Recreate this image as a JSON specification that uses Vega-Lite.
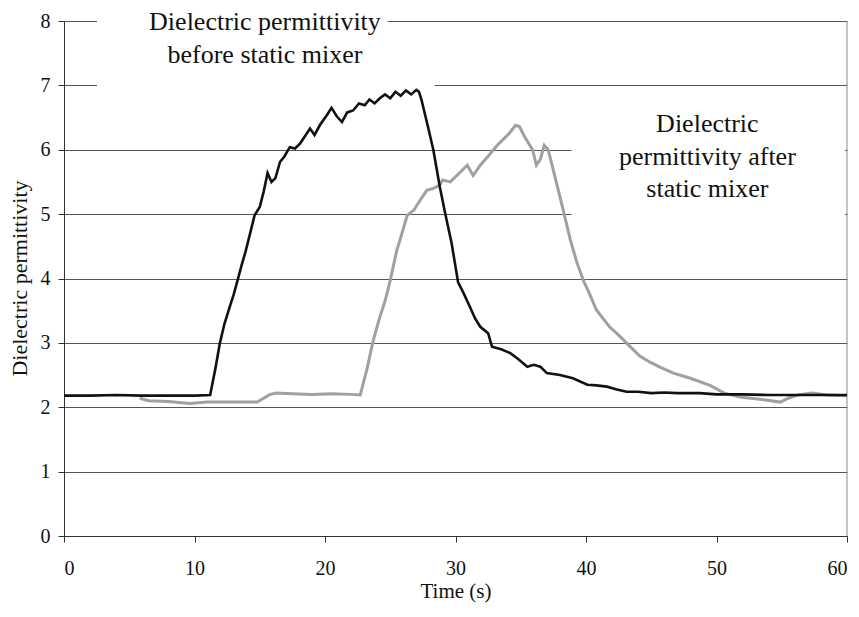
{
  "$schema": "https://vega.github.io/schema/vega-lite/v6.json",
  "width": 783,
  "height": 515,
  "autosize": {"type": "none"},
  "padding": {"left": 64, "top": 21, "right": 12, "bottom": 81},
  "background": "white",
  "config": {
    "view": {"stroke": null},
    "axis": {
      "labelFont": "Liberation Serif",
      "titleFont": "Liberation Serif",
      "labelFontSize": 20,
      "titleFontSize": 21,
      "titleFontWeight": "normal",
      "labelColor": "#111111",
      "titleColor": "#111111",
      "domainColor": "#333333",
      "tickColor": "#333333",
      "gridColor": "#555555",
      "gridWidth": 1,
      "tickSize": 6
    }
  },
  "datasets": {
    "series": [
      {"t": 0, "v": 2.18, "s": "before"}, {"t": 2, "v": 2.18, "s": "before"}, {"t": 4, "v": 2.19, "s": "before"}, {"t": 6, "v": 2.18, "s": "before"}, {"t": 8, "v": 2.18, "s": "before"}, {"t": 10, "v": 2.18, "s": "before"}, {"t": 11.2, "v": 2.19, "s": "before"},
      {"t": 11.6, "v": 2.6, "s": "before"}, {"t": 11.95, "v": 3.0, "s": "before"}, {"t": 12.3, "v": 3.3, "s": "before"}, {"t": 12.7, "v": 3.56, "s": "before"}, {"t": 13.0, "v": 3.75, "s": "before"}, {"t": 13.3, "v": 3.97, "s": "before"}, {"t": 13.6, "v": 4.2, "s": "before"}, {"t": 13.9, "v": 4.41, "s": "before"}, {"t": 14.2, "v": 4.65, "s": "before"}, {"t": 14.6, "v": 4.98, "s": "before"}, {"t": 15.0, "v": 5.11, "s": "before"}, {"t": 15.3, "v": 5.35, "s": "before"}, {"t": 15.6, "v": 5.64, "s": "before"}, {"t": 15.9, "v": 5.5, "s": "before"}, {"t": 16.2, "v": 5.56, "s": "before"}, {"t": 16.55, "v": 5.81, "s": "before"}, {"t": 16.9, "v": 5.9, "s": "before"}, {"t": 17.3, "v": 6.04, "s": "before"}, {"t": 17.7, "v": 6.02, "s": "before"}, {"t": 18.1, "v": 6.1, "s": "before"}, {"t": 18.5, "v": 6.22, "s": "before"}, {"t": 18.85, "v": 6.33, "s": "before"}, {"t": 19.2, "v": 6.23, "s": "before"}, {"t": 19.6, "v": 6.38, "s": "before"}, {"t": 20.15, "v": 6.54, "s": "before"}, {"t": 20.5, "v": 6.65, "s": "before"}, {"t": 20.9, "v": 6.52, "s": "before"}, {"t": 21.3, "v": 6.43, "s": "before"}, {"t": 21.7, "v": 6.58, "s": "before"}, {"t": 22.15, "v": 6.61, "s": "before"}, {"t": 22.6, "v": 6.72, "s": "before"}, {"t": 23.05, "v": 6.69, "s": "before"}, {"t": 23.4, "v": 6.78, "s": "before"}, {"t": 23.8, "v": 6.72, "s": "before"}, {"t": 24.2, "v": 6.8, "s": "before"}, {"t": 24.6, "v": 6.86, "s": "before"}, {"t": 25.0, "v": 6.8, "s": "before"}, {"t": 25.4, "v": 6.9, "s": "before"}, {"t": 25.8, "v": 6.84, "s": "before"}, {"t": 26.2, "v": 6.92, "s": "before"}, {"t": 26.6, "v": 6.86, "s": "before"}, {"t": 27.0, "v": 6.93, "s": "before"}, {"t": 27.2, "v": 6.9, "s": "before"},
      {"t": 27.4, "v": 6.77, "s": "before"}, {"t": 27.9, "v": 6.35, "s": "before"}, {"t": 28.3, "v": 6.0, "s": "before"}, {"t": 28.8, "v": 5.42, "s": "before"}, {"t": 29.2, "v": 5.02, "s": "before"}, {"t": 29.7, "v": 4.55, "s": "before"}, {"t": 30.2, "v": 3.94, "s": "before"}, {"t": 30.6, "v": 3.78, "s": "before"}, {"t": 31.1, "v": 3.56, "s": "before"}, {"t": 31.5, "v": 3.38, "s": "before"}, {"t": 31.9, "v": 3.25, "s": "before"}, {"t": 32.5, "v": 3.15, "s": "before"}, {"t": 32.8, "v": 2.94, "s": "before"}, {"t": 33.5, "v": 2.9, "s": "before"}, {"t": 34.2, "v": 2.84, "s": "before"}, {"t": 34.8, "v": 2.75, "s": "before"}, {"t": 35.5, "v": 2.63, "s": "before"}, {"t": 36.0, "v": 2.66, "s": "before"}, {"t": 36.5, "v": 2.63, "s": "before"}, {"t": 37.0, "v": 2.53, "s": "before"}, {"t": 38.0, "v": 2.5, "s": "before"}, {"t": 39.0, "v": 2.45, "s": "before"}, {"t": 40.1, "v": 2.35, "s": "before"}, {"t": 40.8, "v": 2.34, "s": "before"}, {"t": 41.6, "v": 2.32, "s": "before"}, {"t": 42.3, "v": 2.28, "s": "before"}, {"t": 43.1, "v": 2.24, "s": "before"}, {"t": 44, "v": 2.24, "s": "before"}, {"t": 45, "v": 2.22, "s": "before"}, {"t": 46, "v": 2.23, "s": "before"}, {"t": 47, "v": 2.22, "s": "before"}, {"t": 48.7, "v": 2.22, "s": "before"}, {"t": 50, "v": 2.2, "s": "before"}, {"t": 52, "v": 2.2, "s": "before"}, {"t": 54, "v": 2.19, "s": "before"}, {"t": 56, "v": 2.19, "s": "before"}, {"t": 58, "v": 2.19, "s": "before"}, {"t": 60, "v": 2.19, "s": "before"},
      {"t": 5.8, "v": 2.14, "s": "after"}, {"t": 6.5, "v": 2.1, "s": "after"}, {"t": 8, "v": 2.09, "s": "after"}, {"t": 9.65, "v": 2.06, "s": "after"}, {"t": 11, "v": 2.08, "s": "after"}, {"t": 12.5, "v": 2.08, "s": "after"}, {"t": 14, "v": 2.08, "s": "after"}, {"t": 14.8, "v": 2.08, "s": "after"}, {"t": 15.8, "v": 2.2, "s": "after"}, {"t": 16.3, "v": 2.22, "s": "after"}, {"t": 17.5, "v": 2.21, "s": "after"}, {"t": 19, "v": 2.2, "s": "after"}, {"t": 20.5, "v": 2.21, "s": "after"}, {"t": 22, "v": 2.2, "s": "after"}, {"t": 22.7, "v": 2.19, "s": "after"},
      {"t": 23.2, "v": 2.58, "s": "after"}, {"t": 23.7, "v": 3.04, "s": "after"}, {"t": 24.2, "v": 3.4, "s": "after"}, {"t": 24.6, "v": 3.65, "s": "after"}, {"t": 25.0, "v": 3.97, "s": "after"}, {"t": 25.5, "v": 4.44, "s": "after"}, {"t": 25.75, "v": 4.6, "s": "after"}, {"t": 26.3, "v": 4.98, "s": "after"}, {"t": 26.8, "v": 5.06, "s": "after"}, {"t": 27.3, "v": 5.22, "s": "after"}, {"t": 27.8, "v": 5.37, "s": "after"}, {"t": 28.3, "v": 5.4, "s": "after"}, {"t": 28.8, "v": 5.45, "s": "after"}, {"t": 29.0, "v": 5.53, "s": "after"}, {"t": 29.6, "v": 5.5, "s": "after"}, {"t": 30.2, "v": 5.62, "s": "after"}, {"t": 30.9, "v": 5.76, "s": "after"}, {"t": 31.35, "v": 5.6, "s": "after"}, {"t": 31.9, "v": 5.76, "s": "after"}, {"t": 32.5, "v": 5.9, "s": "after"}, {"t": 33.2, "v": 6.07, "s": "after"}, {"t": 33.6, "v": 6.15, "s": "after"}, {"t": 34.1, "v": 6.25, "s": "after"}, {"t": 34.6, "v": 6.38, "s": "after"}, {"t": 34.9, "v": 6.36, "s": "after"}, {"t": 35.3, "v": 6.2, "s": "after"}, {"t": 35.9, "v": 6.0, "s": "after"}, {"t": 36.2, "v": 5.76, "s": "after"}, {"t": 36.5, "v": 5.85, "s": "after"}, {"t": 36.8, "v": 6.07, "s": "after"}, {"t": 37.1, "v": 6.0, "s": "after"}, {"t": 37.5, "v": 5.68, "s": "after"}, {"t": 38.2, "v": 5.11, "s": "after"}, {"t": 38.8, "v": 4.6, "s": "after"}, {"t": 39.3, "v": 4.25, "s": "after"}, {"t": 39.8, "v": 3.97, "s": "after"}, {"t": 40.3, "v": 3.75, "s": "after"}, {"t": 40.8, "v": 3.51, "s": "after"}, {"t": 41.3, "v": 3.38, "s": "after"}, {"t": 41.8, "v": 3.25, "s": "after"}, {"t": 42.5, "v": 3.12, "s": "after"}, {"t": 43.1, "v": 3.0, "s": "after"}, {"t": 43.6, "v": 2.9, "s": "after"}, {"t": 44.1, "v": 2.8, "s": "after"}, {"t": 44.9, "v": 2.7, "s": "after"}, {"t": 45.7, "v": 2.62, "s": "after"}, {"t": 46.7, "v": 2.53, "s": "after"}, {"t": 48.0, "v": 2.45, "s": "after"}, {"t": 49.5, "v": 2.34, "s": "after"}, {"t": 50.6, "v": 2.22, "s": "after"}, {"t": 51.8, "v": 2.16, "s": "after"}, {"t": 53.9, "v": 2.11, "s": "after"}, {"t": 54.9, "v": 2.08, "s": "after"}, {"t": 55.5, "v": 2.14, "s": "after"}, {"t": 56.2, "v": 2.19, "s": "after"}, {"t": 57.3, "v": 2.22, "s": "after"}, {"t": 58.5, "v": 2.19, "s": "after"}, {"t": 60, "v": 2.18, "s": "after"}
    ]
  },
  "layer": [
    {
      "data": {"values": [{}]},
      "mark": {"type": "rect", "fill": "white", "stroke": null},
      "encoding": {
        "x": {"datum": 2.53, "type": "quantitative", "scale": {"domain": [0, 60], "nice": false}, "axis": {"values": [0, 10, 20, 30, 40, 50, 60], "format": "d", "grid": false, "title": "Time (s)", "labelPadding": 16, "titleY": 61, "titleBaseline": "alphabetic"}},
        "x2": {"datum": 24.8},
        "y": {"datum": 7.5, "type": "quantitative", "scale": {"domain": [0, 8], "nice": false}, "axis": {"values": [0, 1, 2, 3, 4, 5, 6, 7, 8], "format": "d", "grid": true, "title": "Dielectric permittivity", "titleFontSize": 22, "labelPadding": 8, "titleX": -45, "titleY": 257, "titleBaseline": "middle", "titleAlign": "center", "titleAngle": -90}},
        "y2": {"datum": 8.4}
      }
    },
    {
      "data": {"values": [{}]},
      "mark": {"type": "rect", "fill": "white", "stroke": null},
      "encoding": {
        "x": {"datum": 2.53, "type": "quantitative"},
        "x2": {"datum": 28.4},
        "y": {"datum": 6.95, "type": "quantitative"},
        "y2": {"datum": 7.5}
      }
    },
    {
      "data": {"values": [{}]},
      "mark": {"type": "rect", "fill": "white", "stroke": null},
      "encoding": {
        "x": {"datum": 38.9, "type": "quantitative"},
        "x2": {"datum": 59.85},
        "y": {"datum": 4.5, "type": "quantitative"},
        "y2": {"datum": 6.5}
      }
    },
    {
      "data": {"values": [{}]},
      "mark": {"type": "rule", "color": "#888888", "strokeWidth": 1},
      "encoding": {
        "x": {"datum": 60, "type": "quantitative"},
        "y": {"datum": 0, "type": "quantitative"},
        "y2": {"datum": 8}
      }
    },
    {
      "data": {"name": "series"},
      "transform": [{"filter": "datum.s === 'after'"}],
      "mark": {"type": "line", "color": "#a0a0a0", "strokeWidth": 3},
      "encoding": {
        "x": {"field": "t", "type": "quantitative"},
        "y": {"field": "v", "type": "quantitative"}
      }
    },
    {
      "data": {"name": "series"},
      "transform": [{"filter": "datum.s === 'before'"}],
      "mark": {"type": "line", "color": "#111111", "strokeWidth": 2.6},
      "encoding": {
        "x": {"field": "t", "type": "quantitative"},
        "y": {"field": "v", "type": "quantitative"}
      }
    },
    {
      "data": {"values": [{}]},
      "mark": {"type": "text", "text": "Dielectric permittivity\nbefore static mixer", "lineBreak": "\n", "font": "Liberation Serif", "fontSize": 26, "lineHeight": 33, "align": "center", "baseline": "alphabetic", "color": "#111111"},
      "encoding": {
        "x": {"datum": 15.4, "type": "quantitative"},
        "y": {"datum": 7.86, "type": "quantitative"}
      }
    },
    {
      "data": {"values": [{}]},
      "mark": {"type": "text", "text": "Dielectric\npermittivity after\nstatic mixer", "lineBreak": "\n", "font": "Liberation Serif", "fontSize": 26, "lineHeight": 32.5, "align": "center", "baseline": "alphabetic", "color": "#111111"},
      "encoding": {
        "x": {"datum": 49.3, "type": "quantitative"},
        "y": {"datum": 6.27, "type": "quantitative"}
      }
    }
  ]
}
